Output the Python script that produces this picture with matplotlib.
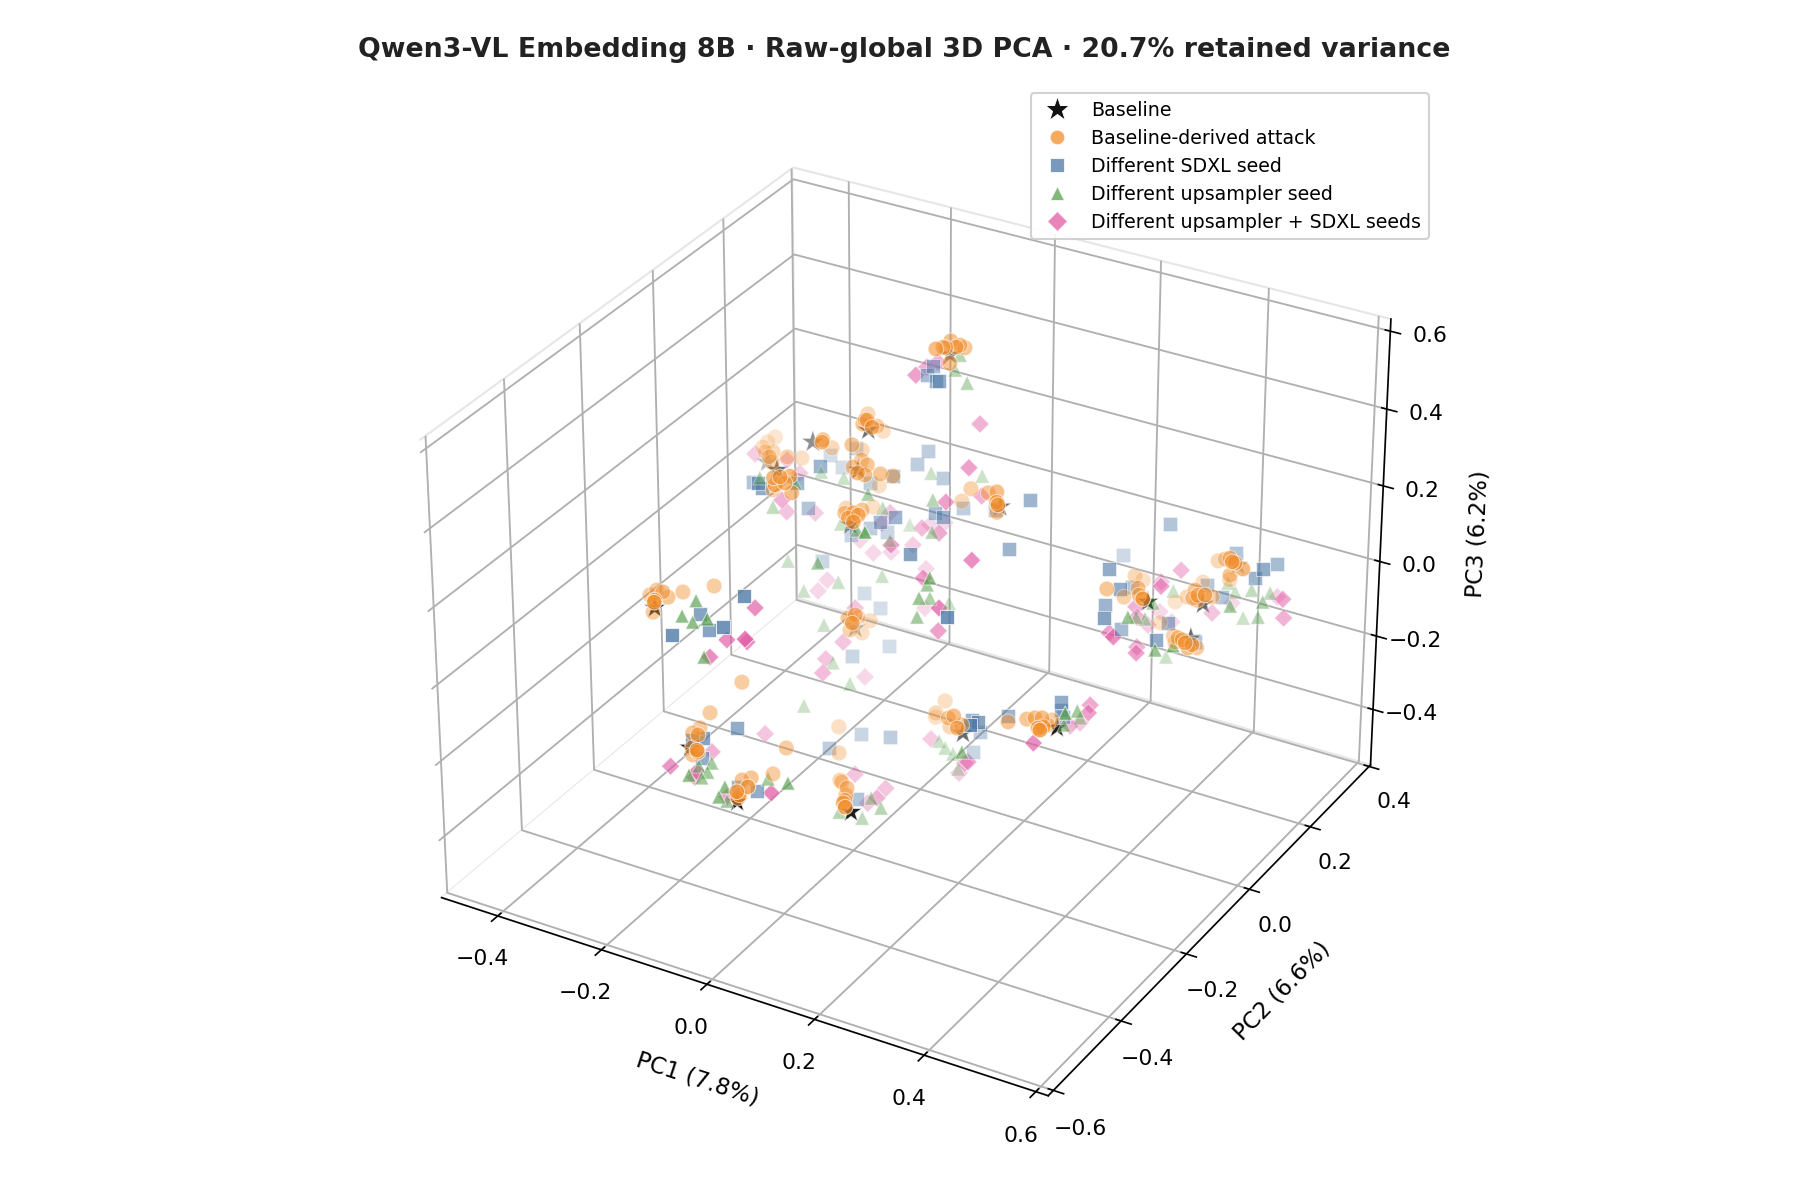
import numpy as np
import matplotlib
matplotlib.use('Agg')
import matplotlib.pyplot as plt
from matplotlib.colors import to_rgba
from matplotlib.lines import Line2D

PLOT_TITLE = 'Qwen3-VL Embedding 8B · Raw-global 3D PCA · 20.7% retained variance'

ORANGE = '#F28E2B'
BLUE = '#4E79A7'
GREEN = '#59A14F'
PINK = '#E15CA5'

# PCA scores per group as (PC1, PC2, PC3), stored in thousandths
baseline = [[64,-15,630],[4,-157,519],[-109,-143,436],[6,-189,442],[-207,-127,336],[-106,-248,442],[217,-110,371],
[17,-229,336],[-16,-167,9],[-137,-537,299],[-35,-597,34],[61,-612,-51],[209,-523,-87],[455,-326,72],[256,-278,-65],
[533,-55,118],[498,153,133],[536,-25,184],[529,-185,310]]

attack = [[34,-9,630],[43,6,626],[39,27,627],[57,14,627],[25,91,560],[10,70,530],[58,24,625],[39,4,627],
[-214,175,241],[-45,-91,479],[-42,-90,479],[-88,-32,410],[-32,-91,465],[-109,41,344],[-229,244,140],[-55,-198,496],
[-96,-134,440],[-252,126,172],[-337,164,85],[-95,-53,369],[-207,147,168],[-84,-67,326],[-117,8,277],[-65,-55,330],
[-34,-130,376],[-23,-126,372],
[-43,-51,312],[-66,21,245],[-212,205,28],[-432,227,60],[-441,218,50],[-399,142,107],[-336,79,164],[-250,-58,283],
[-288,5,209],[-347,73,164],[-268,20,219],[-108,-255,427],[-99,-250,429],[-86,-242,430],[-103,-258,413],[-90,-250,417],
[-118,-190,337],[-275,-12,153],[9,137,155],[-41,189,64],[117,16,275],[168,-41,339],[248,-171,440],[251,-172,435],
[137,10,237],[-206,97,50],[-24,-158,298],[-54,-87,241],[-212,186,-15],[-29,-165,288],[24,-217,355],[20,-225,342],
[-77,-102,235],[-30,-166,29],[-21,-159,35],[59,-289,147],[-100,-31,-102],[-106,-45,-128],[-175,95,-273],[-168,109,-248],
[242,271,-87],[215,344,-165],[323,42,86],[274,181,-62],[367,65,88],[408,-2,138],[521,-187,316],
[258,329,-252],[244,403,-258],[326,297,-130],[448,106,84],[304,388,-169],[490,40,138],[570,-80,263],[455,101,64],
[448,99,68],[438,180,5],[356,344,-57],[441,214,80],[520,87,210],[564,24,263],[594,-40,326],[577,26,251],
[491,141,113],[381,340,-95],[361,193,-140],[443,63,-10],[527,-62,109],[497,0,35],[437,136,-96],[366,190,-152],
[486,1,51],[537,-58,105],[-363,-235,9],[-355,-227,19],[-258,-346,144],[-292,-285,70],[-181,-475,253],[-140,-534,310],
[-351,-244,-25],[-317,-209,15],[-275,-182,27],[-196,-223,-164],[-229,-266,-225],[-169,15,-465],[-114,-68,-446],[-106,-232,-295],
[-237,-283,-255],[-202,-353,-197],[-110,-469,-69],[-197,-363,-226],[-62,-538,-37],[-193,-367,-240],[-24,-594,30],
[-113,-347,-289],[-101,-339,-285],[59,-580,-40],[46,-591,-49],[-28,-477,-184],[-29,-480,-190],[-114,-259,-346],[-58,-150,-429],
[-13,-213,-362],[38,-275,-305],[39,-280,-319],[80,-345,-261],[118,-407,-200],[199,-524,-78],[-24,113,-412],[10,31,-365],
[-31,95,-445],[152,-156,-168],[198,-213,-97],[36,33,-393],[246,-279,-55],[174,-151,-181],[238,-115,-175],[263,-99,-170],
[312,-155,-101],[322,-150,-101],[261,-18,-239],[394,-281,9],[364,-216,-53],[295,-88,-181],[433,-340,68]]

sdxl_seed = [[-59,111,445],[-54,121,463],[-2,49,495],[42,-13,555],[-111,196,166],[-122,180,139],[-78,190,111],[-262,212,105],
[-343,257,23],[-320,258,-2],[-131,-90,328],[-66,21,245],[-182,132,101],[-307,-22,169],[-161,-209,346],
[-169,-209,356],[-157,-118,294],[-217,2,117],[-36,186,50],[52,141,113],[179,42,261],[9,29,172],[63,-32,227],
[-232,151,-73],[-163,102,10],[-5,-68,227],[-65,-18,154],[-181,180,-66],[111,-204,280],[169,-4,165],[263,-336,282],
[-264,112,-126],[-234,191,-262],[-204,193,-293],[-174,175,-371],[-180,72,-320],[-21,-466,321],[310,263,84],[159,373,-141],
[355,-8,189],[379,-12,150],[281,194,-42],[327,30,55],[405,-105,157],[321,92,-59],[450,-18,51],[423,65,19],
[388,251,-38],[415,254,-62],[417,293,26],[570,104,189],[527,158,108],[517,249,70],[395,205,-152],[-155,-393,164],
[-136,-396,134],[-37,-500,263],[-103,-541,248],[-100,-378,-121],[-133,27,-480],[-47,-19,-413],[-130,-73,-436],
[-102,-468,-75],[-136,-422,-179],[-116,-477,-78],[-116,-354,-303],[-46,-403,-243],[-26,-149,-467],[186,-140,-171],[272,-260,-44],
[82,52,-403],[38,101,-516],[336,-386,77],[235,-111,-164],[342,-126,-70],[308,-68,-152],[313,-71,-166]]

upsampler_seed = [[-40,202,367],[-62,215,423],[-63,202,393],[-141,253,54],[-65,290,48],[-41,101,133],[-303,170,56],[-267,183,44],
[-94,-9,209],[-299,-14,177],[-313,43,52],[-246,9,167],[-252,151,-50],[-153,125,50],[118,-342,442],[-53,-104,202],
[-173,177,-83],[-195,272,-121],[-29,80,68],[148,-205,234],[68,-87,94],[102,-164,132],[37,-30,3],[-60,181,-212],
[67,-115,31],[-231,110,-169],[-278,78,-187],[-314,86,-126],[-95,-153,137],[-169,147,-156],[-234,71,-257],
[-205,53,-334],[264,360,-187],[401,-24,95],[300,177,-102],[313,183,-106],[318,199,-74],[452,-25,31],[281,311,-322],
[511,-72,103],[504,121,53],[356,405,-188],[417,350,-116],[378,395,-242],[475,268,-102],[512,214,-5],[445,362,-122],
[346,398,-162],[-166,-387,190],[-179,-407,161],[-162,-403,149],[-102,-449,217],[-132,-417,82],[-229,2,-422],[-171,52,-377],
[-163,-358,-256],[-223,-308,-331],[-106,-501,-146],[-165,-367,-274],[-171,-375,-285],[-52,-482,-169],[-56,-493,-188],[-126,-371,-331],
[-77,-327,-287],[34,-435,-161],[-6,-138,-465],[12,-137,-485],[-38,-116,-552],[-46,-171,-493],[-16,82,-494],[-4,82,-508],
[10,84,-520],[224,-230,-167],[24,78,-551],[425,-252,37],[331,-57,-154],[261,70,-304],[318,-76,-181]]

both_seeds = [[48,-89,625],[-21,51,522],[-7,62,532],[77,54,410],[158,-108,446],[-361,64,160],[-267,18,213],[-288,85,121],
[-171,-140,261],[-246,-16,109],[-249,71,40],[109,9,269],[140,-146,380],[-217,154,-83],[-97,61,107],[-105,48,86],
[-192,156,-109],[-166,170,-107],[81,-212,297],[-94,124,-25],[-3,9,142],[-121,218,-52],[104,-109,259],[-100,231,-48],
[274,-284,389],[-108,186,-142],[139,-210,234],[285,-394,358],[-93,159,-222],[181,-232,132],[-248,103,-165],[-257,89,-187],
[-1,-466,299],[75,-604,359],[1,-492,234],[-108,-27,-84],[-111,-58,-152],[-129,-82,-186],[-85,-157,-146],[-152,68,-363],
[383,174,58],[321,219,-32],[471,-44,218],[253,336,-230],[371,52,51],[377,46,31],
[281,249,-187],[275,338,-250],[418,-110,128],[496,-231,244],[389,27,-28],[463,-103,89],[407,237,-94],[355,397,-212],
[457,365,-130],[621,79,150],[584,153,29],[-27,-505,238],[-43,-528,206],[-185,-176,-336],[-167,-351,-234],[-94,-566,-64],
[-97,-498,-150],[-16,-607,-11],[123,-611,-2],[-45,-487,-188],[-39,-135,-417],[11,-121,-445],[84,-259,-325],[-9,-144,-475],
[14,10,-417],[194,-173,-256],[236,-231,-187],[69,9,-486],[429,-352,43],[384,-107,-76],[421,-175,-26],[263,67,-314],[327,-72,-183]]

plt.rcParams['grid.linewidth'] = 0.9

fig = plt.figure(figsize=(12, 8), dpi=150)
ax = fig.add_axes([0.1, 0.0301, 0.8, 0.9], projection='3d', computed_zorder=False)


# alpha goes in the colour, a scalar alpha= would switch depth shading off
def draw(points, color, marker, size, order, opacity=0.8):
    p = np.array(points) / 1000
    ax.scatter(p[:, 0], p[:, 1], p[:, 2], color=to_rgba(color, opacity), marker=marker, s=size,
               edgecolors=to_rgba('white', 0.7), linewidths=0.5, zorder=order)


draw(baseline, '#111111', '*', 120, 1, 1.0)
draw(both_seeds, PINK, 'D', 38, 2)
draw(sdxl_seed, BLUE, 's', 44, 3)
draw(upsampler_seed, GREEN, '^', 46, 4)
draw(attack, ORANGE, 'o', 56, 5, 0.72)

ax.set_xlim(-0.51, 0.622)
ax.set_ylim(-0.615, 0.405)
ax.set_zlim(-0.553, 0.631)

ax.set_xlabel('PC1 (7.8%)', fontsize=11, labelpad=8)
ax.set_ylabel('PC2 (6.6%)', fontsize=11, labelpad=8)
ax.set_zlabel('PC3 (6.2%)', fontsize=11, labelpad=8)
ax.tick_params(labelsize=10.5)

for axis in (ax.xaxis, ax.yaxis, ax.zaxis):
    axis.set_pane_color((1, 1, 1, 1))
    axis.pane.set_edgecolor('#e6e6e6')

handles = [
    Line2D([], [], ls='', marker='*', ms=12.5, mfc='#111111', mec='white', mew=0.5, label='Baseline'),
    Line2D([], [], ls='', marker='o', ms=7, mfc=ORANGE, mec='white', mew=0.5, alpha=0.75, label='Baseline-derived attack'),
    Line2D([], [], ls='', marker='s', ms=6.5, mfc=BLUE, mec='white', mew=0.5, alpha=0.75, label='Different SDXL seed'),
    Line2D([], [], ls='', marker='^', ms=6.5, mfc=GREEN, mec='white', mew=0.5, alpha=0.75, label='Different upsampler seed'),
    Line2D([], [], ls='', marker='D', ms=6.5, mfc=PINK, mec='white', mew=0.5, alpha=0.75, label='Different upsampler + SDXL seeds'),
]
fig.legend(handles=handles, loc='upper right', bbox_to_anchor=(0.799, 0.93), fontsize=9.1, framealpha=0.9,
           labelspacing=0.47)

fig.text(0.5026, 0.958, PLOT_TITLE, ha='center', va='center', fontsize=12.85, fontweight='bold', color='#222222')
fig.savefig('out.png')
